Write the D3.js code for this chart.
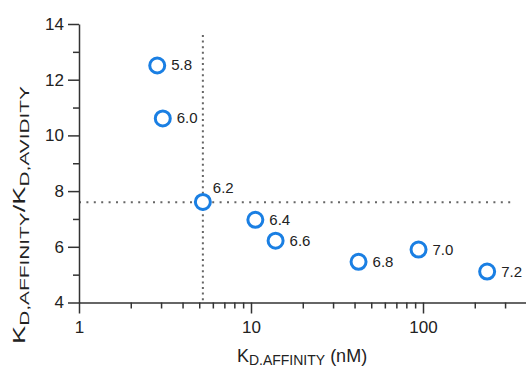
<!DOCTYPE html>
<html><head><meta charset="utf-8">
<script src="https://cdn.jsdelivr.net/npm/d3@7"></script>
<style>
html,body{margin:0;padding:0;background:#fff;}
svg{display:block;font-family:"Liberation Sans",Arial,sans-serif;}
</style></head>
<body><svg id="c" width="526" height="371"></svg>
<script>
// data
const labels = ["5.8","6.0","6.2","6.4","6.6","6.8","7.0","7.2"];
const kdAffinity = [2.85, 3.07, 5.25, 10.6, 13.9, 42.2, 94.2, 236];
const ratio = [12.51, 10.61, 7.61, 6.97, 6.22, 5.46, 5.90, 5.11];
const refX = 5.25;
const refY = 7.6;
const xMajorTicks = [1, 10, 100];
const xMinorTicks = [2,3,4,5,6,7,8,9,20,30,40,50,60,70,80,90,200,300];
const yMajorTicks = [4,6,8,10,12,14];
const yMinorTicks = [5,7,9,11,13];

const svg = d3.select("#c");
const x0 = 79, y0 = 302.5, yTop = 24;
const x = d3.scaleLog().domain([1, 400]).range([x0, x0 + 172*Math.log10(400)]);
const y = d3.scaleLinear().domain([4, 14]).range([y0, yTop]);
const axisColor = "#333";
const textColor = "#222";

// reference lines
svg.append("line").attr("x1", x0).attr("x2", 513).attr("y1", y(refY)).attr("y2", y(refY))
  .attr("stroke", "#666").attr("stroke-width", 2).attr("stroke-dasharray", "2,5.4");
svg.append("line").attr("x1", x(refX)).attr("x2", x(refX)).attr("y1", 35).attr("y2", y0)
  .attr("stroke", "#666").attr("stroke-width", 2).attr("stroke-dasharray", "2,3.6");

// axes
function styleAxis(g){
  g.select(".domain").attr("stroke", axisColor).attr("stroke-width", 1.5);
  g.selectAll(".tick line").attr("stroke", axisColor).attr("stroke-width", 1.5);
  g.selectAll(".tick text").attr("fill", textColor);
}
const gx = svg.append("g").attr("transform", `translate(0,${y0})`)
  .call(d3.axisBottom(x).tickValues(xMajorTicks).tickFormat(d3.format("d")).tickSize(11).tickSizeOuter(0).tickPadding(7));
gx.selectAll(".tick text").attr("font-size", 17).attr("font-family", "Liberation Sans, Arial, sans-serif");
styleAxis(gx);
const gxm = svg.append("g").attr("transform", `translate(0,${y0})`)
  .call(d3.axisBottom(x).tickValues(xMinorTicks).tickFormat("").tickSize(6).tickSizeOuter(0));
gxm.select(".domain").remove();
styleAxis(gxm);

const gy = svg.append("g").attr("transform", `translate(${x0},0)`)
  .call(d3.axisLeft(y).tickValues(yMajorTicks).tickSize(11).tickSizeOuter(0).tickPadding(4));
gy.selectAll(".tick text").attr("font-size", 17).attr("font-family", "Liberation Sans, Arial, sans-serif");
styleAxis(gy);
const gym = svg.append("g").attr("transform", `translate(${x0},0)`)
  .call(d3.axisLeft(y).tickValues(yMinorTicks).tickFormat("").tickSize(6).tickSizeOuter(0));
gym.select(".domain").remove();
styleAxis(gym);

// points
const pts = labels.map((l,i)=>({l, xv:kdAffinity[i], yv:ratio[i]}));
svg.append("g").selectAll("circle").data(pts).join("circle")
  .attr("cx", d=>x(d.xv)).attr("cy", d=>y(d.yv)).attr("r", 7.5)
  .attr("fill", "#fff").attr("stroke", "#1a7fe3").attr("stroke-width", 3);
svg.append("g").selectAll("text").data(pts).join("text")
  .attr("x", d=>x(d.xv) + (d.l==="6.2"?10:14))
  .attr("y", d=>y(d.yv) + (d.l==="6.2"?-9:5))
  .attr("font-size", 15).attr("fill", textColor).text(d=>d.l);

// x title
const xt = svg.append("text").attr("x", 302).attr("y", 362).attr("text-anchor", "middle")
  .attr("fill", textColor).attr("font-size", 18);
xt.append("tspan").text("K");
xt.append("tspan").attr("font-size", 14).attr("dy", 3).text("D.AFFINITY");
xt.append("tspan").attr("dy", -3).text(" (nM)");

// y title
const yt = svg.append("text").attr("transform", "translate(25,215) rotate(-90)").attr("text-anchor", "middle")
  .attr("fill", textColor).attr("font-size", 17)
  .attr("textLength", 258).attr("lengthAdjust", "spacingAndGlyphs");
yt.append("tspan").text("K");
yt.append("tspan").attr("font-size", 13).attr("dy", 4).text("D,AFFINITY");
yt.append("tspan").attr("dy", -4).text("/K");
yt.append("tspan").attr("font-size", 13).attr("dy", 4).text("D,AVIDITY");
</script>
</body></html>
